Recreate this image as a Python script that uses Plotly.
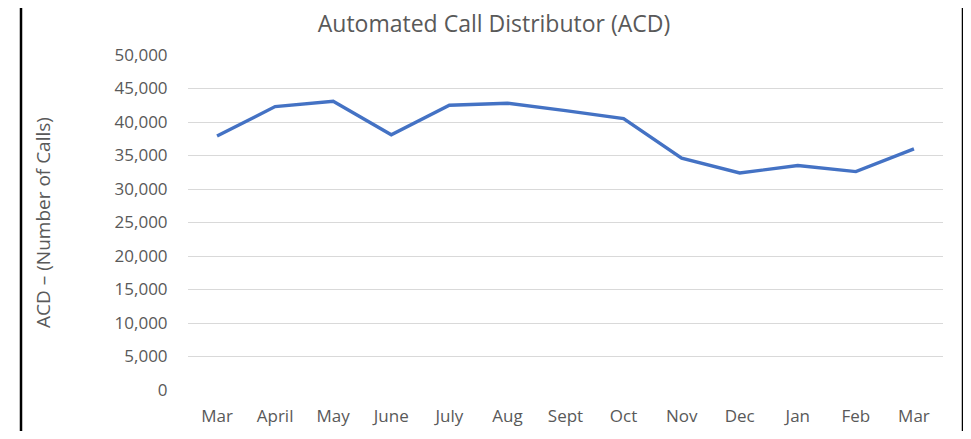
import plotly.graph_objects as go

months = ["Mar", "April", "May", "June", "July", "Aug", "Sept", "Oct", "Nov", "Dec", "Jan", "Feb", "Mar "]
calls = [37900, 42300, 43100, 38100, 42500, 42800, 41700, 40500, 34600, 32400, 33500, 32600, 36000]
y_ticks = [0, 5000, 10000, 15000, 20000, 25000, 30000, 35000, 40000, 45000, 50000]
y_tick_labels = [f"{v:,}" for v in y_ticks]

# page body adds an 8px margin; work in screen pixels and subtract it
OFF = 8
SW, SH = 971, 439
W, H = SW - OFF, SH - 2 * OFF
left, right, top, bottom = 188, 943, 55, 390  # plot area in screen pixels
ml, mt = left - OFF, top - OFF
mr = W - (right - OFF)
mb = H - (bottom - OFF)
pw, ph = right - left, bottom - top

fig = go.Figure()
fig.add_trace(go.Scatter(
    x=list(range(len(months))), y=calls, mode="lines",
    line=dict(color="#4472C4", width=3.4),
    hoverinfo="skip",
))

font_family = "Open Sans, Liberation Sans, sans-serif"
grey = "#595959"

fig.update_layout(
    width=W, height=H,
    margin=dict(l=ml, r=mr, t=mt, b=mb, autoexpand=False),
    paper_bgcolor="white", plot_bgcolor="white",
    showlegend=False,
    title=dict(text="Automated Call Distributor (ACD)", x=(494 - left) / pw, xref="paper",
               xanchor="center", y=1 - (24 - OFF) / H, yanchor="middle", yref="container",
               font=dict(family=font_family, size=23, color=grey)),
    xaxis=dict(
        range=[-0.5, len(months) - 0.5],
        tickmode="array", tickvals=list(range(len(months))), ticktext=[m.strip() for m in months],
        showgrid=False, zeroline=False, showline=False,
        ticks="outside", ticklen=11, tickcolor="rgba(0,0,0,0)",
        tickfont=dict(family=font_family, size=17, color=grey),
        fixedrange=True,
    ),
    yaxis=dict(
        range=[0, 50000],
        tickmode="array", tickvals=y_ticks, ticktext=y_tick_labels,
        showgrid=True, gridcolor="#d9d9d9", gridwidth=1,
        zeroline=False, showline=False,
        ticks="outside", ticklen=16, tickcolor="rgba(0,0,0,0)",
        tickfont=dict(family=font_family, size=17, color=grey),
        title=dict(text="ACD – (Number of Calls)", standoff=58,
                   font=dict(family=font_family, size=19, color=grey)),
        fixedrange=True,
    ),
)

# outer chart frame: left and right edges (screen x 21 and 963); top edge lies above the page area
for sx in (21, 963):
    fig.add_shape(type="line", xref="paper", yref="paper",
                  x0=(sx - left) / pw, x1=(sx - left) / pw,
                  y0=-(SH + 20 - bottom) / ph, y1=(bottom - OFF) / ph,
                  line=dict(color="black", width=2.5), layer="below")

fig.write_html("out.html")
